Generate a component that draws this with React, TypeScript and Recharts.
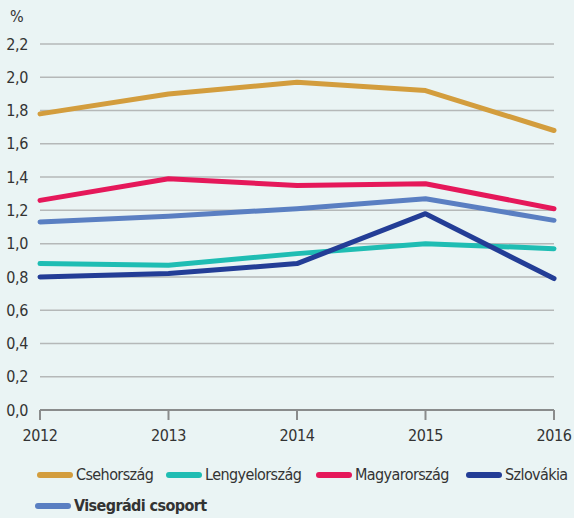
import { LineChart, Line, XAxis, YAxis, CartesianGrid } from "recharts"

const YEARS = ["2012", "2013", "2014", "2015", "2016"]
const CSEH = [1.78, 1.9, 1.97, 1.92, 1.68]
const LENGYEL = [0.88, 0.87, 0.94, 1.0, 0.97]
const MAGYAR = [1.26, 1.39, 1.35, 1.36, 1.21]
const SZLOVAK = [0.8, 0.82, 0.88, 1.18, 0.79]
const V4 = [1.13, 1.165, 1.21, 1.27, 1.14]
const Y_TICKS = [0, 0.2, 0.4, 0.6, 0.8, 1.0, 1.2, 1.4, 1.6, 1.8, 2.0, 2.2]

const SERIES = [
        { key: "cseh", name: "Csehország", color: "#D39D3D", values: CSEH },
        { key: "lengyel", name: "Lengyelország", color: "#1FBDB3", values: LENGYEL },
        { key: "magyar", name: "Magyarország", color: "#E5185A", values: MAGYAR },
        { key: "szlovak", name: "Szlovákia", color: "#233D96", values: SZLOVAK },
        { key: "v4", name: "Visegrádi csoport", color: "#5A7FC2", values: V4, bold: true },
]

const data = YEARS.map((year, i) => {
        const row: Record<string, string | number> = { year }
        SERIES.forEach((s) => (row[s.key] = s.values[i]))
        return row
})

const FONT = "'Liberation Sans Narrow', 'DejaVu Sans Condensed', 'Roboto', sans-serif"
const fmt = (v: number) => v.toFixed(1).replace(".", ",")
const tickStyle = { fontSize: 16, fill: "#333", fontFamily: FONT, letterSpacing: -0.4 }

// legend item positions (left of swatch), row 1 and row 2
const LEGEND_POS = [
        { left: 37, top: 465 },
        { left: 166, top: 465 },
        { left: 316, top: 465 },
        { left: 466, top: 465 },
        { left: 35, top: 496 },
]

export default function App() {
        return (
                <div
                        style={{
                                position: "absolute",
                                left: 0,
                                top: 0,
                                width: 574,
                                height: 518,
                                background: "#EAF4F4",
                                fontFamily: FONT,
                                color: "#333",
                        }}
                >
                        <div style={{ position: "absolute", left: 10, top: 7, fontSize: 16 }}>%</div>
                        <LineChart
                                width={574}
                                height={450}
                                data={data}
                                margin={{ top: 44, right: 20, left: 0, bottom: 0 }}
                        >
                                <CartesianGrid vertical={false} stroke="#B5B8B8" strokeWidth={1.5} />
                                <XAxis
                                        dataKey="year"
                                        height={40}
                                        axisLine={{ stroke: "#8A8C8C", strokeWidth: 2 }}
                                        tickLine={{ stroke: "#8A8C8C", strokeWidth: 2 }}
                                        tickSize={10}
                                        tickMargin={10}
                                        tick={tickStyle}
                                />
                                <YAxis
                                        width={40}
                                        domain={[0, 2.2]}
                                        ticks={Y_TICKS}
                                        tickFormatter={fmt}
                                        axisLine={false}
                                        tickLine={false}
                                        tickMargin={6}
                                        tick={tickStyle}
                                />
                                {SERIES.map((s) => (
                                        <Line
                                                key={s.key}
                                                type="linear"
                                                dataKey={s.key}
                                                name={s.name}
                                                stroke={s.color}
                                                strokeWidth={5}
                                                strokeLinecap="round"
                                                strokeLinejoin="round"
                                                dot={false}
                                                isAnimationActive={false}
                                        />
                                ))}
                        </LineChart>
                        {SERIES.map((s, i) => (
                                <div
                                        key={s.key}
                                        style={{
                                                position: "absolute",
                                                left: LEGEND_POS[i].left,
                                                top: LEGEND_POS[i].top,
                                                display: "flex",
                                                alignItems: "center",
                                                fontSize: 16,
                                                letterSpacing: -0.6,
                                                fontWeight: s.bold ? "bold" : "normal",
                                                whiteSpace: "nowrap",
                                        }}
                                >
                                        <span
                                                style={{
                                                        display: "inline-block",
                                                        width: 36,
                                                        height: 6,
                                                        borderRadius: 3,
                                                        background: s.color,
                                                        marginRight: 3,
                                                }}
                                        />
                                        {s.name}
                                </div>
                        ))}
                </div>
        )
}
